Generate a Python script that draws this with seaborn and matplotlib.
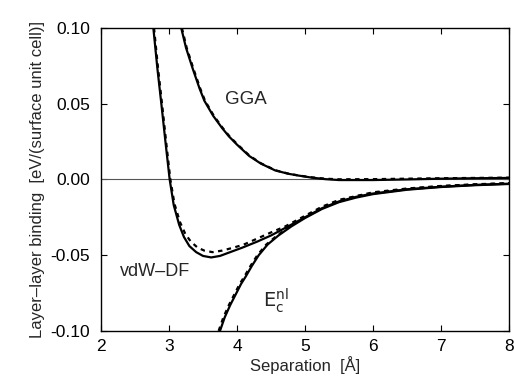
import numpy as np
import pandas as pd
import matplotlib
matplotlib.use('Agg')
import matplotlib.pyplot as plt
import seaborn as sns

# GGA (solid = full calc, dashed = alternative)
gga_x = [3.18, 3.25, 3.35, 3.45, 3.52, 3.65, 3.78, 3.88, 4.0, 4.18, 4.35, 4.56, 4.75, 4.9, 5.1, 5.3, 5.5, 6.0, 6.5, 7.0, 7.5, 8.0]
gga_y = [0.100, 0.087, 0.073, 0.060, 0.052, 0.042, 0.034, 0.0285, 0.023, 0.0155, 0.0105, 0.006, 0.0038, 0.0026, 0.0012, 0.0002, -0.0004, -0.0004, 0.0, 0.0005, 0.0008, 0.001]
gga_x_d = [3.19, 3.26, 3.36, 3.46, 3.53, 3.66, 3.79, 3.89, 4.01, 4.19, 4.36, 4.57, 4.76, 4.91, 5.1, 5.3, 5.5, 6.0, 6.5, 7.0, 7.5, 8.0]
gga_y_d = [0.100, 0.087, 0.073, 0.060, 0.052, 0.042, 0.034, 0.0285, 0.023, 0.0155, 0.0105, 0.006, 0.0038, 0.0026, 0.0014, 0.0005, 0.0001, 0.0002, 0.0005, 0.0008, 0.001, 0.0012]

# vdW-DF
vdw_x = [2.77, 2.83, 2.89, 2.95, 3.01, 3.07, 3.15, 3.22, 3.30, 3.40, 3.50, 3.62, 3.75, 3.90, 4.08, 4.3, 4.5, 4.71, 5.0, 5.25, 5.5, 5.75, 6.0, 6.5, 7.0, 7.5, 8.0]
vdw_y = [0.100, 0.073, 0.049, 0.024, 0.0, -0.017, -0.030, -0.038, -0.044, -0.048, -0.0505, -0.0515, -0.0505, -0.048, -0.045, -0.041, -0.037, -0.032, -0.025, -0.019, -0.0145, -0.0115, -0.0093, -0.0065, -0.0048, -0.0036, -0.0028]
vdw_x_d = [2.78, 2.84, 2.90, 2.96, 3.02, 3.08, 3.16, 3.24, 3.32, 3.42, 3.52, 3.64, 3.78, 3.95, 4.1, 4.3, 4.5, 4.71, 5.0, 5.25, 5.5, 6.0, 6.5, 7.0, 7.5, 8.0]
vdw_y_d = [0.100, 0.073, 0.049, 0.024, 0.0, -0.016, -0.028, -0.036, -0.041, -0.045, -0.047, -0.048, -0.047, -0.045, -0.043, -0.039, -0.035, -0.031, -0.024, -0.018, -0.0135, -0.0085, -0.006, -0.0043, -0.0032, -0.0024]

# E_c^nl
enl_x = [3.75, 3.82, 3.90, 3.98, 4.06, 4.13, 4.22, 4.32, 4.45, 4.61, 4.8, 5.0, 5.25, 5.5, 5.75, 6.0, 6.5, 7.0, 7.5, 8.0]
enl_y = [-0.100, -0.091, -0.083, -0.076, -0.069, -0.064, -0.057, -0.050, -0.043, -0.037, -0.031, -0.0255, -0.0195, -0.0150, -0.012, -0.0097, -0.0068, -0.005, -0.0038, -0.003]
enl_x_d = [3.73, 3.80, 3.88, 3.96, 4.04, 4.11, 4.20, 4.30, 4.43, 4.59, 4.78, 4.98, 5.25, 5.5, 5.75, 6.0, 6.5, 7.0, 7.5, 8.0]
enl_y_d = [-0.100, -0.091, -0.083, -0.076, -0.069, -0.064, -0.057, -0.050, -0.043, -0.037, -0.031, -0.0255, -0.0185, -0.014, -0.0112, -0.009, -0.0062, -0.0045, -0.0034, -0.0026]

sns.set_style('ticks')
plt.rcParams['font.family'] = ['Liberation Sans', 'DejaVu Sans']
plt.rcParams['font.size'] = 12
plt.rcParams['axes.unicode_minus'] = True

fig = plt.figure(figsize=(5.14, 3.87), dpi=100)
ax = fig.add_axes([0.1965, 0.145, 0.7937, 0.7826])

ax.axhline(0, color='#555555', lw=0.8, zorder=1)

curves = [
    (gga_x, gga_y, gga_x_d, gga_y_d),
    (vdw_x, vdw_y, vdw_x_d, vdw_y_d),
    (enl_x, enl_y, enl_x_d, enl_y_d),
]
for xs, ys, xd, yd in curves:
    sns.lineplot(x=xs, y=ys, ax=ax, color='black', lw=1.6, sort=False)
    sns.lineplot(x=xd, y=yd, ax=ax, color='black', lw=1.6, sort=False,
                 linestyle=(0, (2.0, 2.0)))

ax.set_xlim(2, 8)
ax.set_ylim(-0.10, 0.10)
ax.set_xticks([2, 3, 4, 5, 6, 7, 8])
ax.set_yticks([-0.10, -0.05, 0.0, 0.05, 0.10])
ax.yaxis.set_major_formatter(matplotlib.ticker.FormatStrFormatter('%.2f'))
ax.tick_params(direction='in', top=True, right=True, length=4, width=0.8,
               labelsize=12.5, colors='black', pad=6)
ax.tick_params(axis='y', pad=8)
for s in ax.spines.values():
    s.set_linewidth(1.0)
    s.set_color('black')

ax.set_xlabel('Separation  [Å]', fontsize=12, labelpad=1)
ax.set_ylabel('Layer–layer binding  [eV/(surface unit cell)]', fontsize=12, labelpad=4)

ax.text(4.13, 0.053, 'GGA', ha='center', va='center', fontsize=13.5)
ax.text(2.79, -0.061, 'vdW–DF', ha='center', va='center', fontsize=13)
ax.text(4.57, -0.080, r'$\mathrm{E}_\mathrm{c}^\mathrm{nl}$', ha='center', va='center', fontsize=14)

fig.savefig('out.png', dpi=100)
